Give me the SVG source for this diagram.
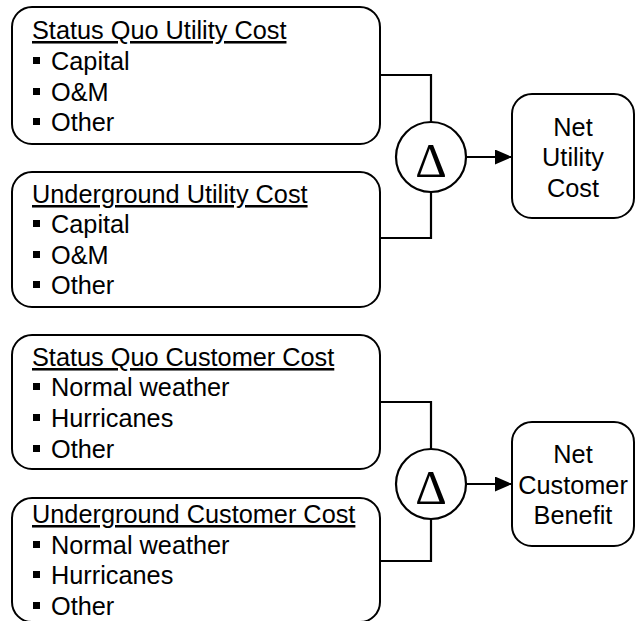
<svg xmlns="http://www.w3.org/2000/svg" width="636" height="621" viewBox="0 0 636 621">
<style>
.box{fill:#fff;stroke:#000;stroke-width:2}
.t{font-family:"Liberation Sans",Arial,sans-serif;font-size:25.3px;fill:#000}
.h{text-decoration:underline}
.c{text-anchor:middle}
.d{font-family:"Liberation Serif","Times New Roman",serif;font-size:49px;text-anchor:middle;fill:#000}
.ln{fill:none;stroke:#000;stroke-width:2.2}
.circ{fill:#fff;stroke:#000;stroke-width:2.2}
</style>
<defs>
<rect id="b" width="7" height="7" fill="#000"/>
<marker id="arr" viewBox="0 0 17 15" refX="17" refY="7.5" markerWidth="17" markerHeight="15" markerUnits="userSpaceOnUse" orient="auto">
<path d="M0,0 L17,7.5 L0,15 z" fill="#000"/>
</marker>
</defs>
<rect width="636" height="621" fill="#fff"/>
<g id="connectors">
<path class="ln" d="M380,75 H431 V122"/>
<path class="ln" d="M380,238 H431 V192"/>
<path class="ln" d="M466,157 H512" marker-end="url(#arr)"/>
<path class="ln" d="M380,402 H431 V449"/>
<path class="ln" d="M380,561 H431 V519"/>
<path class="ln" d="M466,484 H512" marker-end="url(#arr)"/>
</g>
<g id="statusQuoUtility">
<rect class="box" x="12" y="7" width="368" height="137" rx="20"/>
<text class="t h" x="32" y="39">Status Quo Utility Cost</text>
<use href="#b" x="33" y="57"/><text class="t" x="51" y="70">Capital</text>
<use href="#b" x="33" y="88"/><text class="t" x="51" y="101">O&amp;M</text>
<use href="#b" x="33" y="118"/><text class="t" x="51" y="131">Other</text>
</g>
<g id="undergroundUtility">
<rect class="box" x="12" y="172" width="368" height="135" rx="20"/>
<text class="t h" x="32" y="203">Underground Utility Cost</text>
<use href="#b" x="33" y="220"/><text class="t" x="51" y="233">Capital</text>
<use href="#b" x="33" y="251"/><text class="t" x="51" y="264">O&amp;M</text>
<use href="#b" x="33" y="281"/><text class="t" x="51" y="294">Other</text>
</g>
<g id="deltaUtility">
<circle class="circ" cx="431" cy="157" r="35"/>
<text class="d" x="431" y="176.5">Δ</text>
</g>
<g id="netUtility">
<rect class="box" x="512" y="94" width="122" height="124" rx="20"/>
<text class="t c" x="573" y="135.5">Net</text>
<text class="t c" x="573" y="166">Utility</text>
<text class="t c" x="573" y="197">Cost</text>
</g>
<g id="statusQuoCustomer">
<rect class="box" x="12" y="335" width="368" height="134" rx="20"/>
<text class="t h" x="32" y="366">Status Quo Customer Cost</text>
<use href="#b" x="33" y="383"/><text class="t" x="51" y="396">Normal weather</text>
<use href="#b" x="33" y="414"/><text class="t" x="51" y="427">Hurricanes</text>
<use href="#b" x="33" y="445"/><text class="t" x="51" y="458">Other</text>
</g>
<g id="undergroundCustomer">
<rect class="box" x="12" y="498" width="368" height="124" rx="20"/>
<text class="t h" x="32" y="523">Underground Customer Cost</text>
<use href="#b" x="33" y="541"/><text class="t" x="51" y="554">Normal weather</text>
<use href="#b" x="33" y="571"/><text class="t" x="51" y="584">Hurricanes</text>
<use href="#b" x="33" y="602"/><text class="t" x="51" y="615">Other</text>
</g>
<g id="deltaCustomer">
<circle class="circ" cx="431" cy="484" r="35"/>
<text class="d" x="431" y="503.5">Δ</text>
</g>
<g id="netCustomer">
<rect class="box" x="512" y="422" width="122" height="124" rx="20"/>
<text class="t c" x="573" y="463">Net</text>
<text class="t c" x="573" y="494">Customer</text>
<text class="t c" x="573" y="524">Benefit</text>
</g>
</svg>
